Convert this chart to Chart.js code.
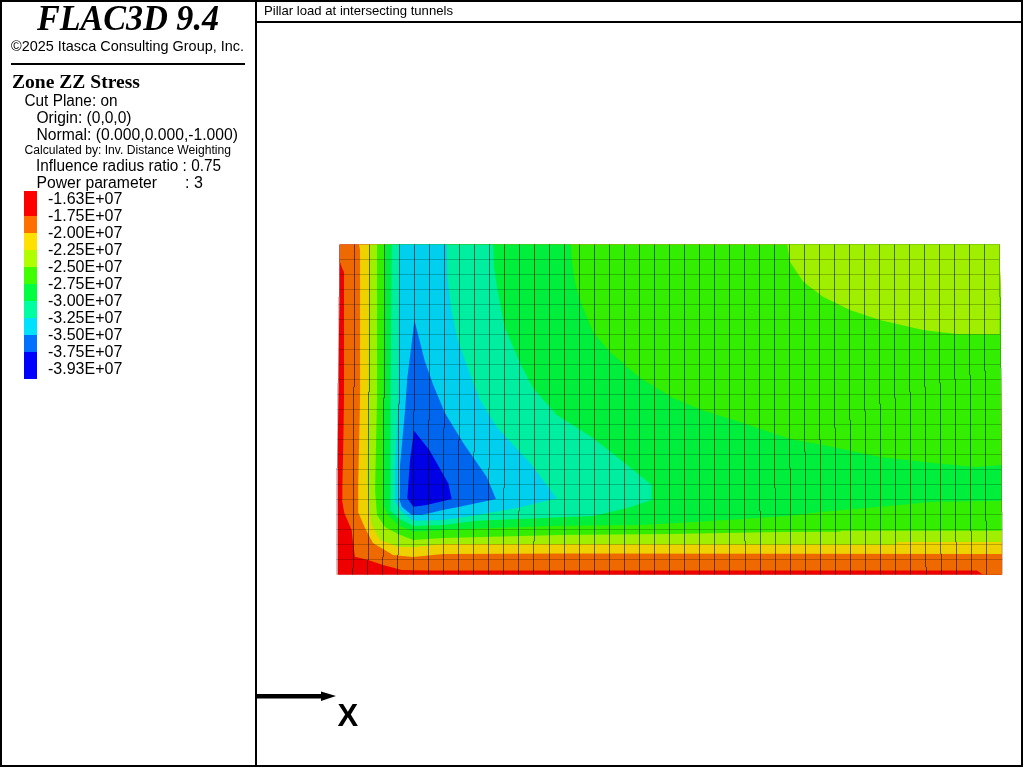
<!DOCTYPE html>
<html>
<head>
<meta charset="utf-8">
<title>Zone ZZ Stress</title>
<script src="https://cdn.jsdelivr.net/npm/chart.js@4/dist/chart.umd.min.js"></script>
<style>
html, body { margin: 0; padding: 0; background: #fff; overflow: hidden; }
#plot, #panel { position: absolute; left: 0; top: 0; }
</style>
</head>
<body>
<canvas id="plot" width="1024" height="768"></canvas>
<svg id="panel" width="1024" height="768" xmlns="http://www.w3.org/2000/svg"></svg>
<script>
// legend
const legendLabels = ['-1.63E+07', '-1.75E+07', '-2.00E+07', '-2.25E+07', '-2.50E+07', '-2.75E+07', '-3.00E+07', '-3.25E+07', '-3.50E+07', '-3.75E+07', '-3.93E+07'];
const legendColors = ['#ff0000', '#ff7000', '#ffe000', '#b0ff00', '#40ff00', '#00ff40', '#00ffa0', '#00e0ff', '#0070ff', '#0000ff'];

// mesh in zone units, 44 x 22 zones
const meshX = [0,1,2,3,4,5,6,7,8,9,10,11,12,13,14,15,16,17,18,19,20,21,22,23,24,25,26,27,28,29,30,31,32,33,34,35,36,37,38,39,40,41,42,43,44];
const meshY = [0,1,2,3,4,5,6,7,8,9,10,11,12,13,14,15,16,17,18,19,20,21,22];
// heights where each vertical grid line bends outward a little
const meshBends = [
    [18.5,12.77,7.1], [12.5,0.43], [12.17,0.97], [11.77,1.17], [11.37,1.3], [10.9], [10.3], [9.77], [8.97], [8.17],
    [7.1], [5.77], [4.23], [2.23], [], [], [], [], [], [], [], [], [], [], [], [], [],
    [2.23], [4.23], [5.77], [7.1], [8.17], [8.97], [9.77], [10.3], [10.9], [11.37], [11.77], [12.17],
    [12.5,0.5], [12.77,1.37], [13.03,2.17], [13.3,2.9], [13.57,3.57], [18.5,13.77,4.17]
];

// contour bands, outermost first. Each one is painted over the one before
const bandRed = [[0,22],[44,22],[44.07,18.5],[44.1,13.77],[44.15,4.17],[44.15,-0.02],[-0.13,-0.02],[-0.13,7.1],[-0.07,12.77],[-0.01,18.5]];
const bandOrange = [[0.03,22],[44,22],[44.07,18.5],[44.1,13.77],[44.15,4.17],[44.15,-0.02],[42.9,-0.02],[42.5,0.27],[6.03,0.27],[4.15,0.3],[2.9,0.63],[1.9,0.97],[1.03,1.19],[0.92,1.97],[0.81,2.97],[0.32,4.1],[0.17,4.97],[0.19,5.83],[0.25,8.5],[0.3,11.63],[0.3,20.17],[0.17,20.43],[0.03,20.83]];
const bandYellow = [[1.3,22],[44,22],[44.07,18.5],[44.1,13.77],[44.15,1.37],[15.37,1.4],[6.9,1.37],[4.9,1.17],[3.57,1.3],[2.23,2.1],[1.7,3.1],[1.27,4.1],[1.25,6.1],[1.37,11.63],[1.37,21.63]];
const bandLime = [[1.99,22],[44,22],[44.07,18.5],[44.1,13.77],[44.15,2.17],[37.17,2.17],[37.1,1.99],[6.9,2.03],[4.9,1.81],[3.9,1.85],[2.7,2.3],[2.15,3.3],[1.99,4.1],[1.85,6.1],[1.92,11.63]];
const bandGreen = [[2.5,22],[44,22],[44.07,18.5],[44.1,13.77],[44.15,2.92],[33.43,2.92],[33.37,2.85],[29.37,2.83],[22.03,2.7],[14.7,2.63],[6.9,2.43],[4.9,2.3],[3.9,2.7],[3.03,3.17],[2.5,3.97],[2.37,5.63],[2.5,11.63]];
const cornerLime = [[29.85,22],[44,22],[44,16.01],[41.15,16.03],[38.9,16.3],[36.03,16.97],[34.03,17.63],[32.23,18.52],[30.92,19.52],[30.03,20.85]];
const bandGreen2 = [[2.99,22],[15.43,22],[15.48,21.1],[15.7,19.43],[16.15,17.97],[16.9,16.17],[18.03,14.83],[20.03,13.1],[22.23,11.77],[24.15,10.97],[26.9,10.1],[30.03,9.03],[32.23,8.63],[36.03,7.83],[38.9,7.5],[42.37,7.17],[44.12,7.3],[44.12,4.92],[39.57,4.85],[36.03,4.52],[32.23,4.19],[30.03,3.92],[26.9,3.7],[22.5,3.43],[20.03,3.3],[14.7,3.25],[9.17,3.07],[6.9,2.97],[4.9,2.85],[3.9,3.3],[3.23,3.97],[2.92,4.63],[2.92,11.63]];
const bandTeal = [[3.48,22],[10.25,22],[10.3,20.43],[10.59,18.63],[11.03,16.43],[12.03,14.1],[12.9,12.43],[14.48,10.63],[16.9,9.1],[19.17,7.3],[20.81,5.97],[20.81,4.97],[19.17,4.43],[16.9,3.9],[14.7,3.81],[9.17,3.59],[6.9,3.3],[4.9,3.23],[3.9,3.77],[3.37,4.3],[3.37,5.63],[3.43,11.63]];
const bandCyan = [[3.97,22],[7.15,22],[7.19,19.77],[7.48,17.5],[7.92,15.5],[8.9,12.83],[9.37,11.63],[10.48,9.83],[12.7,7.43],[14.48,5.08],[11.81,4.43],[9.15,3.97],[6.9,3.63],[4.9,3.59],[4.03,4.3],[3.7,4.85],[3.7,7.17],[3.92,11.63]];
const bandBlue = [[4.99,16.97],[5.7,14.19],[6.25,12.63],[7.03,10.77],[8.25,8.77],[9.81,6.52],[10.43,5.03],[8.25,4.57],[6.9,4.3],[5.48,3.97],[4.81,3.97],[4.15,4.52],[3.97,5.08],[4.03,7.19],[4.37,10.97],[4.52,13.1],[4.88,15.97]];
const bandDeep = [[4.97,9.59],[5.99,8.3],[7.25,6.08],[7.48,5.03],[5.81,4.63],[4.92,4.52],[4.52,5.08],[4.7,7.63]];

const bands = [
    { points: bandRed, color: '#ee0000' },
    { points: bandOrange, color: '#ee6a00' },
    { points: bandYellow, color: '#eed200' },
    { points: bandLime, color: '#a0ee00' },
    { points: bandGreen, color: '#33ee00' },
    { points: cornerLime, color: '#a0ee00' },
    { points: bandGreen2, color: '#00ee3c' },
    { points: bandTeal, color: '#00ee9f' },
    { points: bandCyan, color: '#00d0ee' },
    { points: bandBlue, color: '#0066ee' },
    { points: bandDeep, color: '#0000e6' }
];

const ONE_PIXEL = 1 / 15; // one screen pixel in zone units
const LINE_DARK = 'rgba(0,0,0,0.22)';
const LINE_EDGE = 'rgba(0,0,0,0.08)';

function verticalLine(i) {
    const dir = i < 20 ? -1 : 1;
    let x = meshX[i];
    const pts = [{ x: x, y: 22 }];
    meshBends[i].forEach(y => {
        pts.push({ x: x, y: y });
        x += dir * ONE_PIXEL;
        pts.push({ x: x, y: y });
    });
    pts.push({ x: x, y: 0 });
    return pts;
}

// how far a vertical line has moved at height y
function bentX(i, y) {
    const dir = i < 20 ? -1 : 1;
    const passed = meshBends[i].filter(b => b >= y).length;
    return meshX[i] + dir * passed * ONE_PIXEL;
}

function lineDataset(pts, color) {
    return { data: pts, showLine: true, fill: false, borderColor: color, borderWidth: 1, pointRadius: 0 };
}

function buildDatasets() {
    const sets = [];
    meshX.forEach((x, i) => {
        const edge = i === 0 || i === meshX.length - 1;
        sets.push(lineDataset(verticalLine(i), edge ? LINE_EDGE : LINE_DARK));
    });
    meshY.forEach((y, j) => {
        const edge = j === 0 || j === meshY.length - 1;
        const pts = [{ x: bentX(0, y), y: y }, { x: bentX(44, y), y: y }];
        sets.push(lineDataset(pts, edge ? LINE_EDGE : LINE_DARK));
    });
    // the first dataset ends up on top, so the deepest band goes in first
    bands.slice().reverse().forEach(band => {
        sets.push({
            data: band.points.map(p => ({ x: p[0], y: p[1] })),
            showLine: true,
            fill: 'shape',
            backgroundColor: band.color,
            borderWidth: 0,
            pointRadius: 0
        });
    });
    return sets;
}

new Chart(document.getElementById('plot'), {
    type: 'scatter',
    data: { datasets: buildDatasets() },
    options: {
        responsive: false,
        animation: false,
        layout: { padding: 0 },
        plugins: { legend: { display: false }, tooltip: { enabled: false } },
        scales: {
            // 15 screen pixels per zone
            x: { type: 'linear', display: false, min: -339.5 / 15, max: 684.5 / 15 },
            y: { type: 'linear', display: false, min: -193.5 / 15, max: 574.5 / 15 }
        }
    }
});

// side panel and frame
const panel = document.getElementById('panel');
const SVG_NS = 'http://www.w3.org/2000/svg';
const SANS = '"Liberation Sans", Arial, sans-serif';
const SERIF = '"Liberation Serif", "Times New Roman", serif';

function addText(str, x, y, size, family, extra) {
    const t = document.createElementNS(SVG_NS, 'text');
    t.setAttribute('x', x);
    t.setAttribute('y', y);
    t.setAttribute('font-size', size);
    t.setAttribute('font-family', family);
    t.setAttribute('lengthAdjust', 'spacingAndGlyphs');
    t.style.whiteSpace = 'pre';
    if (extra) {
        Object.keys(extra).forEach(k => t.setAttribute(k, extra[k]));
    }
    t.textContent = str;
    panel.appendChild(t);
}

function addRect(x, y, w, h, color) {
    const r = document.createElementNS(SVG_NS, 'rect');
    r.setAttribute('x', x);
    r.setAttribute('y', y);
    r.setAttribute('width', w);
    r.setAttribute('height', h);
    r.setAttribute('fill', color);
    panel.appendChild(r);
}

addRect(0, 0, 1023, 2, '#000');
addRect(0, 765, 1023, 2, '#000');
addRect(0, 0, 2, 767, '#000');
addRect(1021, 0, 2, 767, '#000');
addRect(255, 0, 2, 767, '#000');
addRect(257, 21, 766, 2, '#000');
addRect(11, 63, 234, 2, '#000');

addText('Pillar load at intersecting tunnels', 264, 15, 13, SANS, { textLength: 189 });
addText('FLAC3D 9.4', 37, 30, 35, SERIF, { 'font-weight': 'bold', 'font-style': 'italic', textLength: 182 });
addText('\u00a92025 Itasca Consulting Group, Inc.', 11, 51, 14.5, SANS, { textLength: 233 });
addText('Zone ZZ Stress', 12, 88, 19, SERIF, { 'font-weight': 'bold', textLength: 128 });
addText('Cut Plane: on', 24.5, 106, 16, SANS, { textLength: 93 });
addText('Origin: (0,0,0)', 36.5, 123, 16, SANS, { textLength: 95 });
addText('Normal: (0.000,0.000,-1.000)', 36.5, 140, 16, SANS, { textLength: 201.5 });
addText('Calculated by: Inv. Distance Weighting', 24.5, 154, 12, SANS, { textLength: 206.5 });
addText('Influence radius ratio : 0.75', 36, 171, 16, SANS, { textLength: 185 });
addText('Power parameter', 36.5, 188, 16, SANS, { textLength: 120.5 });
addText(': 3', 185, 188, 16, SANS);

const swatchEdges = [191, 216, 233, 250, 267, 284, 301, 318, 335, 352, 379];
legendColors.forEach((c, i) => addRect(24, swatchEdges[i], 13, swatchEdges[i + 1] - swatchEdges[i], c));
legendLabels.forEach((label, i) => addText(label, 48, 204 + 17 * i, 16, SANS));

// x axis arrow
addRect(257, 694, 65, 4.5, '#000');
const head = document.createElementNS(SVG_NS, 'polygon');
head.setAttribute('points', '321,691.5 336,696 321,701');
panel.appendChild(head);
addText('X', 337.5, 726, 31, SANS, { 'font-weight': 'bold' });
</script>
</body>
</html>
